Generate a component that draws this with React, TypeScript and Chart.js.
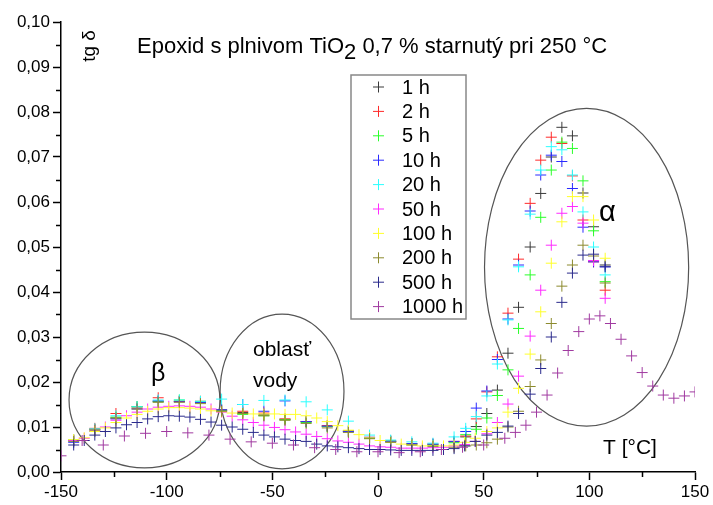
import React, { useEffect, useRef } from 'react';
import { Chart, registerables } from 'chart.js';

Chart.register(...registerables);

const FONT = '"Liberation Sans", Arial, sans-serif';

// Temperatures (°C)
const TEMPS_A = [-144, -134, -124, -114, -104, -94, -84, -74, -64, -54, -44, -34, -24, -14, -4, 6, 16, 26, 36, 41.5, 46.5, 51.5, 56.5, 61.5, 66.5, 72, 77, 82, 87, 92, 97, 102, 107.5];
const TEMPS_B = [-144, -139, -134, -129, -124, -119, -114, -109, -104, -99, -94, -89, -84, -79, -74, -69, -64, -59, -54, -49, -44, -39, -34, -29, -24, -19, -14, -9, -4, 1, 6, 11, 16, 21, 26, 31, 36, 41, 46, 51.5, 56.5, 61.5, 66.5, 72, 77, 82, 87, 92, 97, 102, 107.5];
const TEMPS_C = [-150, -140, -130, -120, -110, -100, -90, -80, -70, -60, -50, -40, -30, -20, -10, 0, 10, 20, 30, 40, 50, 60, 65, 70, 75, 80, 85, 90, 95, 100, 105, 110, 115, 120, 125, 130, 135, 140, 145, 150];

// tg delta values
const TG_1H = [0.0070, 0.0095, 0.0120, 0.0145, 0.0157, 0.0157, 0.0155, 0.0138, 0.0132, 0.0127, 0.0117, 0.0112, 0.0102, 0.0090, 0.0076, 0.0069, 0.0063, 0.0060, 0.0067, 0.0078, 0.0101, 0.0130, 0.0182, 0.0264, 0.0366, 0.0500, 0.0619, 0.0700, 0.0766, 0.0747, 0.0620, 0.0545, 0.0460];
const TG_2H = [0.0072, 0.0097, 0.0130, 0.0142, 0.0165, 0.0157, 0.0157, 0.0137, 0.0135, 0.0131, 0.0118, 0.0112, 0.0103, 0.0092, 0.0077, 0.0068, 0.0062, 0.0062, 0.0068, 0.0080, 0.0118, 0.0178, 0.0256, 0.0353, 0.0473, 0.0597, 0.0693, 0.0744, 0.0730, 0.0658, 0.0560, 0.0467, 0.0404];
const TG_5H = [0.0070, 0.0094, 0.0122, 0.0145, 0.0156, 0.0160, 0.0157, 0.0136, 0.0128, 0.0125, 0.0116, 0.0110, 0.0101, 0.0091, 0.0075, 0.0068, 0.0062, 0.0060, 0.0065, 0.0083, 0.0095, 0.0120, 0.0170, 0.0227, 0.0319, 0.0438, 0.0566, 0.0671, 0.0733, 0.0719, 0.0647, 0.0536, 0.0423];
const TG_10H = [0.0066, 0.0090, 0.0118, 0.0140, 0.0158, 0.0156, 0.0155, 0.0138, 0.0150, 0.0135, 0.0158, 0.0112, 0.0102, 0.0090, 0.0077, 0.0068, 0.0063, 0.0062, 0.0068, 0.0090, 0.0142, 0.0180, 0.0250, 0.0340, 0.0460, 0.0580, 0.0660, 0.0704, 0.0690, 0.0630, 0.0544, 0.0467, 0.0456];
const TG_20H = [0.0072, 0.0096, 0.0125, 0.0145, 0.0160, 0.0160, 0.0157, 0.0162, 0.0150, 0.0159, 0.0160, 0.0156, 0.0138, 0.0113, 0.0082, 0.0071, 0.0067, 0.0064, 0.0078, 0.0097, 0.0123, 0.0169, 0.0240, 0.0338, 0.0456, 0.0573, 0.0671, 0.0723, 0.0716, 0.0660, 0.0578, 0.0500, 0.0438];
const TG_50H = [0.0070, 0.0075, 0.0093, 0.0100, 0.0115, 0.0125, 0.0133, 0.0140, 0.0144, 0.0146, 0.0147, 0.0146, 0.0144, 0.0140, 0.0133, 0.0124, 0.0116, 0.0110, 0.0104, 0.0099, 0.0094, 0.0089, 0.0084, 0.0079, 0.0074, 0.0069, 0.0066, 0.0062, 0.0058, 0.0056, 0.0055, 0.0053, 0.0053, 0.0053, 0.0054, 0.0055, 0.0058, 0.0061, 0.0068, 0.0085, 0.0110, 0.0151, 0.0213, 0.0302, 0.0404, 0.0504, 0.0575, 0.0590, 0.0553, 0.0470, 0.0386];
const TG_100H = [0.0072, 0.0076, 0.0090, 0.0098, 0.0110, 0.0120, 0.0128, 0.0135, 0.0140, 0.0143, 0.0143, 0.0142, 0.0140, 0.0136, 0.0134, 0.0131, 0.0130, 0.0129, 0.0129, 0.0129, 0.0128, 0.0128, 0.0125, 0.0120, 0.0112, 0.0103, 0.0093, 0.0083, 0.0076, 0.0070, 0.0066, 0.0062, 0.0060, 0.0058, 0.0058, 0.0058, 0.0060, 0.0066, 0.0075, 0.0090, 0.0098, 0.0133, 0.0186, 0.0262, 0.0356, 0.0464, 0.0556, 0.0612, 0.0612, 0.0560, 0.0475];
const TG_200H = [0.0068, 0.0093, 0.0120, 0.0140, 0.0155, 0.0155, 0.0152, 0.0135, 0.0130, 0.0125, 0.0115, 0.0108, 0.0098, 0.0088, 0.0074, 0.0066, 0.0060, 0.0057, 0.0055, 0.0058, 0.0060, 0.0065, 0.0073, 0.0100, 0.0135, 0.0190, 0.0249, 0.0330, 0.0413, 0.0460, 0.0504, 0.0480, 0.0420];
const TG_500H = [0.0060, 0.0070, 0.0082, 0.0090, 0.0098, 0.0105, 0.0110, 0.0118, 0.0123, 0.0125, 0.0124, 0.0122, 0.0117, 0.0111, 0.0104, 0.0100, 0.0095, 0.0088, 0.0082, 0.0078, 0.0073, 0.0070, 0.0068, 0.0062, 0.0058, 0.0056, 0.0054, 0.0052, 0.0050, 0.0050, 0.0049, 0.0048, 0.0048, 0.0048, 0.0048, 0.0050, 0.0052, 0.0058, 0.0068, 0.0082, 0.0088, 0.0102, 0.0130, 0.0173, 0.0230, 0.0300, 0.0377, 0.0442, 0.0482, 0.0484, 0.0456];
const TG_1000H = [0.0036, 0.0070, 0.0060, 0.0080, 0.0086, 0.0090, 0.0087, 0.0082, 0.0073, 0.0067, 0.0064, 0.0060, 0.0054, 0.0050, 0.0045, 0.0045, 0.0043, 0.0045, 0.0050, 0.0055, 0.0060, 0.0075, 0.0088, 0.0104, 0.0133, 0.0171, 0.0220, 0.0270, 0.0312, 0.0340, 0.0347, 0.0330, 0.0295, 0.0258, 0.0221, 0.0191, 0.0171, 0.0164, 0.0169, 0.0178];

const SERIES_LABELS = ['1 h', '2 h', '5 h', '10 h', '20 h', '50 h', '100 h', '200 h', '500 h', '1000 h'];
const SERIES_TEMPS = [TEMPS_A, TEMPS_A, TEMPS_A, TEMPS_A, TEMPS_A, TEMPS_B, TEMPS_B, TEMPS_A, TEMPS_B, TEMPS_C];
const SERIES_VALUES = [TG_1H, TG_2H, TG_5H, TG_10H, TG_20H, TG_50H, TG_100H, TG_200H, TG_500H, TG_1000H];
const SERIES_COLORS = ['#3a3a3a', '#ff2a2a', '#2aff2a', '#2a2aff', '#2affff', '#ff2aff', '#ffff2a', '#8c8a2e', '#2a2a8c', '#a03aa0'];

// Ellipse annotations: [centerT, centerTg, radiusT, radiusTg]
const ELLIPSE_BETA = [-110.5, 0.016, 35.7, 0.0151];
const ELLIPSE_WATER = [-45.4, 0.0179, 29.3, 0.0172];
const ELLIPSE_ALPHA = [98.7, 0.0455, 48.3, 0.0353];
const ELLIPSES = [ELLIPSE_BETA, ELLIPSE_WATER, ELLIPSE_ALPHA];

const X_MINOR = [-125, -75, -25, 25, 75, 125];
const Y_MINOR = [0.005, 0.015, 0.025, 0.035, 0.045, 0.055, 0.065, 0.075, 0.085, 0.095];

const decorPlugin = {
  id: 'decor',
  beforeDatasetsDraw(chart: any) {
    const { ctx, scales } = chart;
    const xs = scales.x, ys = scales.y;
    ctx.save();
    ctx.strokeStyle = '#555';
    ctx.lineWidth = 1.2;
    ELLIPSES.forEach((e) => {
      const cx = xs.getPixelForValue(e[0]);
      const cy = ys.getPixelForValue(e[1]);
      const rx = Math.abs(xs.getPixelForValue(e[0] + e[2]) - cx);
      const ry = Math.abs(ys.getPixelForValue(e[1] + e[3]) - cy);
      ctx.beginPath();
      ctx.ellipse(cx, cy, rx, ry, 0, 0, Math.PI * 2);
      ctx.stroke();
    });
    ctx.restore();
  },
  afterDraw(chart: any) {
    const { ctx, scales, chartArea } = chart;
    const xs = scales.x, ys = scales.y;
    ctx.save();
    // minor ticks
    ctx.strokeStyle = '#000';
    ctx.lineWidth = 1.5;
    Y_MINOR.forEach((v) => {
      const p = Math.round(ys.getPixelForValue(v)) + 0.5;
      ctx.beginPath();
      ctx.moveTo(chartArea.left - 5, p);
      ctx.lineTo(chartArea.left, p);
      ctx.stroke();
    });
    X_MINOR.forEach((v) => {
      const p = Math.round(xs.getPixelForValue(v)) + 0.5;
      ctx.beginPath();
      ctx.moveTo(p, chartArea.bottom);
      ctx.lineTo(p, chartArea.bottom + 5);
      ctx.stroke();
    });

    ctx.fillStyle = '#000';
    ctx.textBaseline = 'alphabetic';
    // title with subscript
    ctx.font = `22px ${FONT}`;
    let tx = 137;
    const ty = 53;
    const p1 = 'Epoxid s plnivom TiO';
    ctx.fillText(p1, tx, ty);
    tx += ctx.measureText(p1).width;
    ctx.fillText('2', tx, ty + 6);
    tx += ctx.measureText('2').width;
    ctx.fillText(' 0,7 % starnutý pri 250 °C', tx, ty);

    // y label rotated
    ctx.save();
    ctx.translate(95, 46);
    ctx.rotate(-Math.PI / 2);
    ctx.textAlign = 'center';
    ctx.font = `19px ${FONT}`;
    ctx.fillText('tg δ', 0, 0);
    ctx.restore();

    // x label
    ctx.font = `21px ${FONT}`;
    ctx.textAlign = 'left';
    ctx.fillText('T [°C]', 603, 454);

    // region labels
    ctx.font = `25px ${FONT}`;
    ctx.fillText('β', 151, 381);
    ctx.font = `29px ${FONT}`;
    ctx.fillText('α', 599, 221);
    ctx.font = `21px ${FONT}`;
    ctx.fillText('oblasť', 253, 356);
    ctx.fillText('vody', 253, 387);

    // legend
    const lx = 351, ly = 75, lw = 115, lh = 244;
    ctx.fillStyle = '#fff';
    ctx.fillRect(lx, ly, lw, lh);
    ctx.strokeStyle = '#888';
    ctx.lineWidth = 1.5;
    ctx.strokeRect(lx, ly, lw, lh);
    ctx.font = `20px ${FONT}`;
    ctx.textBaseline = 'middle';
    SERIES_LABELS.forEach((lab, i) => {
      const y = 87 + i * 24.4;
      ctx.strokeStyle = SERIES_COLORS[i];
      ctx.lineWidth = 1;
      ctx.beginPath();
      ctx.moveTo(373, y);
      ctx.lineTo(384, y);
      ctx.moveTo(378.5, y - 5.5);
      ctx.lineTo(378.5, y + 5.5);
      ctx.stroke();
      ctx.fillStyle = '#000';
      ctx.fillText(lab, 402, y + 1);
    });
    ctx.restore();
  },
};

export default function App() {
  const ref = useRef<HTMLCanvasElement>(null);
  useEffect(() => {
    const datasets = SERIES_LABELS.map((label, i) => ({
      label,
      data: SERIES_TEMPS[i].map((t, k) => ({ x: t, y: SERIES_VALUES[i][k] })),
      pointStyle: 'cross',
      pointRadius: 5.5,
      pointHoverRadius: 5.5,
      borderWidth: 1,
      borderColor: SERIES_COLORS[i],
      backgroundColor: SERIES_COLORS[i],
      showLine: false,
      order: SERIES_LABELS.length - i,
    }));
    const chart = new Chart(ref.current as HTMLCanvasElement, {
      type: 'scatter',
      data: { datasets } as any,
      options: {
        responsive: false,
        animation: false,
        devicePixelRatio: 1,
        layout: { padding: { left: 0, right: 18, top: 22, bottom: 0 } },
        plugins: { legend: { display: false }, tooltip: { enabled: false }, title: { display: false } },
        scales: {
          x: {
            type: 'linear',
            min: -150,
            max: 150,
            afterFit: (s: any) => { s.height = 33; },
            ticks: { stepSize: 50, color: '#000', font: { family: FONT, size: 17 }, padding: 2, maxRotation: 0 },
            grid: { drawOnChartArea: false, drawTicks: true, tickLength: 8, color: '#000', tickColor: '#000', tickWidth: 1.5 },
            border: { display: true, color: '#000', width: 1.5 },
          },
          y: {
            type: 'linear',
            min: 0,
            max: 0.1,
            afterFit: (s: any) => { s.width = 61; },
            ticks: {
              stepSize: 0.01,
              color: '#000',
              font: { family: FONT, size: 17 },
              padding: 3,
              callback: (v: any) => Number(v).toFixed(2).replace('.', ','),
            },
            grid: { drawOnChartArea: false, drawTicks: true, tickLength: 8, color: '#000', tickColor: '#000', tickWidth: 1.5 },
            border: { display: true, color: '#000', width: 1.5 },
          },
        },
      },
      plugins: [decorPlugin],
    });
    return () => chart.destroy();
  }, []);
  return (
    <div style={{ position: 'fixed', left: 0, top: 0, width: 713, height: 505, background: '#fff' }}>
      <canvas ref={ref} width={713} height={505} style={{ width: 713, height: 505, display: 'block' }} />
    </div>
  );
}
